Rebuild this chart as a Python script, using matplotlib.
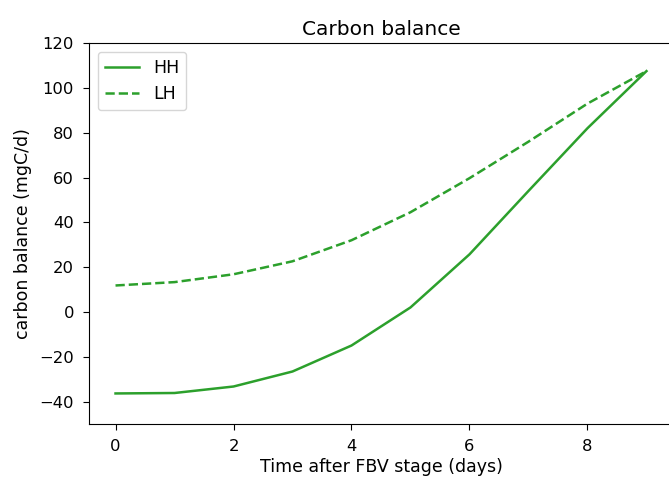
import numpy as np
import matplotlib.pyplot as plt

days = np.arange(0, 10)
hh = [-36.4, -36.2, -33.3, -26.6, -15.0, 2.0, 25.7, 54.0, 82.0, 107.5]
lh = [11.8, 13.3, 16.8, 22.6, 32.0, 44.5, 59.7, 76.0, 93.0, 107.5]

fig = plt.figure(figsize=(6.69, 4.79), dpi=100)
ax = fig.add_axes([0.133, 0.115, 0.873, 0.795])
ax.plot(days, hh, color='tab:green', lw=1.8, label='HH')
ax.plot(days, lh, color='tab:green', lw=1.8, linestyle='--', label='LH')
ax.set_xlim(-0.45, 9.45)
ax.set_ylim(-50, 120)
ax.set_xticks([0, 2, 4, 6, 8])
ax.set_yticks(np.arange(-40, 121, 20))
ax.tick_params(labelsize=11.8, length=4.2, pad=6.5)
ax.set_xlabel('Time after FBV stage (days)', fontsize=12.5, labelpad=3)
ax.set_ylabel('carbon balance (mgC/d)', fontsize=12.5, labelpad=5)
ax.set_title('Carbon balance', fontsize=14.5)
ax.legend(loc='upper left', fontsize=12.5)
fig.savefig('out.png', dpi=100)
